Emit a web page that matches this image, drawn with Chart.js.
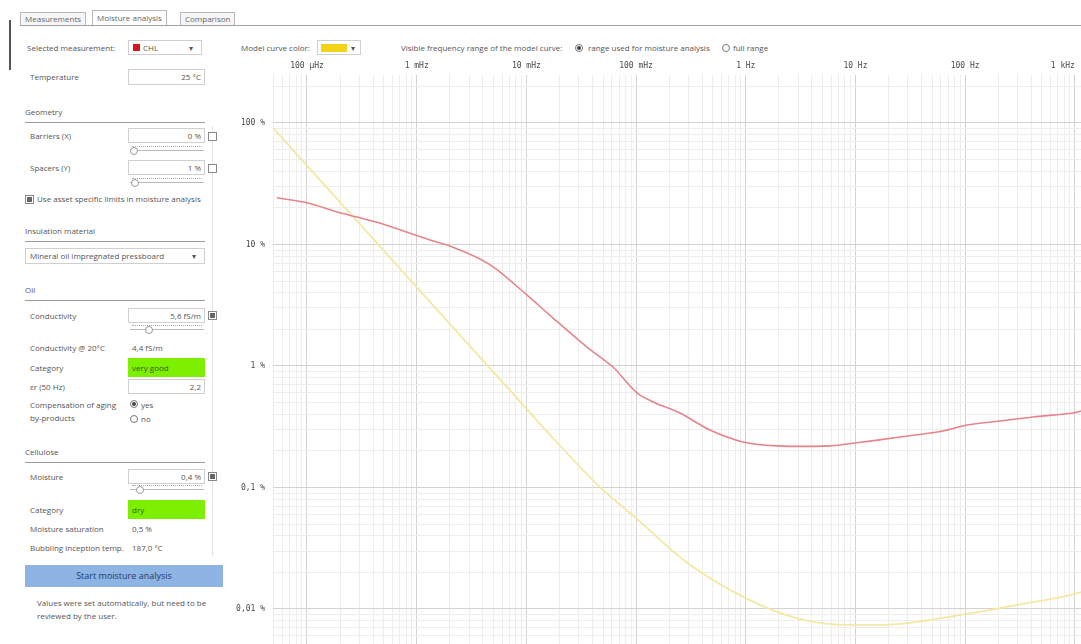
<!DOCTYPE html>
<html>
<head>
<meta charset="utf-8">
<script src="https://cdn.jsdelivr.net/npm/chart.js@4.4.1/dist/chart.umd.min.js"></script>
<style>
  body { margin: 0; width: 1081px; height: 644px; background: #fff; position: relative; overflow: hidden;
         font-family: "Open Sans", "Noto Sans", sans-serif; }
  .t { position: absolute; font-size: 8px; line-height: 10px; color: #555; white-space: nowrap; }
  .h { position: absolute; height: 1px; background: #9a9a9a; }
  .box { position: absolute; border: 1px solid #cfcfcf; background: #fff; box-sizing: border-box; }
  .val { position: absolute; right: 3px; top: 2px; font-size: 8px; line-height: 10px; color: #555; }
  .cb { position: absolute; width: 9px; height: 9px; border: 1px solid #888; background: #fff; box-sizing: border-box; }
  .cb.on::after { content: ""; position: absolute; left: 1px; top: 1px; width: 5px; height: 5px; background: #666; }
  .rd { position: absolute; width: 8px; height: 8px; border: 1px solid #777; border-radius: 50%; box-sizing: border-box; background: #fff; }
  .rd.on::after { content: ""; position: absolute; left: 1px; top: 1px; width: 4px; height: 4px; border-radius: 50%; background: #444; }
  .slider { position: absolute; width: 74px; height: 10px; }
  .slider .dots { position: absolute; left: 2px; right: 2px; top: 1px; border-top: 1px dotted #aaa; }
  .slider .track { position: absolute; left: 0; right: 0; top: 5px; height: 1px; background: #bbb; }
  .slider .thumb { position: absolute; top: 2px; width: 6px; height: 6px; border: 1px solid #999; border-radius: 50%; background: #fff; }
  .tab { position: absolute; font-size: 8px; line-height: 12px; color: #666; border: 1px solid #b8b8b8; border-bottom: none; padding: 0 4px; background: #f6f6f6; }
  #chartWrap { position: absolute; left: 230px; top: 56px; width: 851px; height: 588px; }
</style>
</head>
<body>
<!-- tab strip -->
<div style="position:absolute;left:9px;top:20px;width:2px;height:50px;background:#555"></div>
<div class="tab" style="left:20px;top:12px;">Measurements</div>
<div class="tab" style="left:92px;top:10px;line-height:14px;background:#fff;z-index:2;">Moisture analysis</div>
<div class="tab" style="left:180px;top:12px;">Comparison</div>
<div class="h" style="left:20px;top:25px;width:1061px;background:#a0a0a0"></div>

<!-- top row -->
<div class="t" style="left:27px;top:43px;">Selected measurement:</div>
<div class="box" style="left:128px;top:40px;width:74px;height:15px;">
  <div style="position:absolute;left:4px;top:3px;width:7px;height:7px;background:#d8141c"></div>
  <div class="t" style="left:14px;top:2px;">CHL</div>
  <div class="t" style="left:60px;top:2px;">▾</div>
</div>
<div class="t" style="left:241px;top:43px;">Model curve color:</div>
<div class="box" style="left:317px;top:40px;width:44px;height:15px;">
  <div style="position:absolute;left:3px;top:3px;width:26px;height:8px;background:#f3d319"></div>
  <div class="t" style="left:33px;top:2px;">▾</div>
</div>
<div class="t" style="left:401px;top:43px;">Visible frequency range of the model curve:</div>
<div class="rd on" style="left:575px;top:44px;"></div>
<div class="t" style="left:588px;top:43px;">range used for moisture analysis</div>
<div class="rd" style="left:722px;top:44px;"></div>
<div class="t" style="left:733px;top:43px;">full range</div>

<!-- left panel -->
<div style="position:absolute;left:212px;top:126px;width:1px;height:430px;background:#e2e2e2"></div>

<div class="t" style="left:30px;top:72px;">Temperature</div>
<div class="box" style="left:128px;top:69px;width:77px;height:16px;"><div class="val">25 °C</div></div>

<div class="t" style="left:25px;top:107px;">Geometry</div>
<div class="h" style="left:25px;top:122px;width:180px;"></div>
<div class="t" style="left:30px;top:131px;">Barriers (X)</div>
<div class="box" style="left:128px;top:128px;width:77px;height:15px;"><div class="val">0 %</div></div>
<div class="cb" style="left:208px;top:132px;"></div>
<div class="slider" style="left:130px;top:145px;"><div class="dots"></div><div class="track"></div><div class="thumb" style="left:0px"></div></div>
<div class="t" style="left:30px;top:163px;">Spacers (Y)</div>
<div class="box" style="left:128px;top:160px;width:77px;height:15px;"><div class="val">1 %</div></div>
<div class="cb" style="left:208px;top:164px;"></div>
<div class="slider" style="left:130px;top:177px;"><div class="dots"></div><div class="track"></div><div class="thumb" style="left:1px"></div></div>
<div class="cb on" style="left:25px;top:195px;"></div>
<div class="t" style="left:37px;top:194px;">Use asset specific limits in moisture analysis</div>

<div class="t" style="left:25px;top:226px;">Insulation material</div>
<div class="h" style="left:25px;top:241px;width:180px;"></div>
<div class="box" style="left:25px;top:248px;width:180px;height:16px;">
  <div class="t" style="left:4px;top:2px;">Mineral oil impregnated pressboard</div>
  <div class="t" style="left:166px;top:2px;">▾</div>
</div>

<div class="t" style="left:25px;top:285px;">Oil</div>
<div class="h" style="left:25px;top:300px;width:180px;"></div>
<div class="t" style="left:30px;top:311px;">Conductivity</div>
<div class="box" style="left:128px;top:308px;width:77px;height:15px;"><div class="val">5,6 fS/m</div></div>
<div class="cb on" style="left:208px;top:311px;"></div>
<div class="slider" style="left:130px;top:324px;"><div class="dots"></div><div class="track"></div><div class="thumb" style="left:15px"></div></div>
<div class="t" style="left:30px;top:343px;">Conductivity @ 20°C</div>
<div class="t" style="left:132px;top:343px;">4,4 fS/m</div>
<div class="t" style="left:30px;top:363px;">Category</div>
<div style="position:absolute;left:128px;top:358px;width:77px;height:19px;background:#7cf000"></div>
<div class="t" style="left:132px;top:363px;color:#3a5a10">very good</div>
<div class="t" style="left:30px;top:382px;">εr (50 Hz)</div>
<div class="box" style="left:128px;top:379px;width:77px;height:15px;"><div class="val">2,2</div></div>
<div class="t" style="left:30px;top:400px;">Compensation of aging</div>
<div class="t" style="left:30px;top:413px;">by-products</div>
<div class="rd on" style="left:130px;top:400px;"></div>
<div class="t" style="left:141px;top:400px;">yes</div>
<div class="rd" style="left:130px;top:415px;"></div>
<div class="t" style="left:141px;top:414px;">no</div>

<div class="t" style="left:25px;top:447px;">Cellulose</div>
<div class="h" style="left:25px;top:462px;width:180px;"></div>
<div class="t" style="left:30px;top:472px;">Moisture</div>
<div class="box" style="left:128px;top:469px;width:77px;height:15px;"><div class="val">0,4 %</div></div>
<div class="cb on" style="left:208px;top:472px;"></div>
<div class="slider" style="left:130px;top:484px;"><div class="dots"></div><div class="track"></div><div class="thumb" style="left:6px"></div></div>
<div class="t" style="left:30px;top:505px;">Category</div>
<div style="position:absolute;left:128px;top:500px;width:77px;height:19px;background:#7cf000"></div>
<div class="t" style="left:132px;top:505px;color:#3a5a10">dry</div>
<div class="t" style="left:30px;top:524px;">Moisture saturation</div>
<div class="t" style="left:132px;top:524px;">0,5 %</div>
<div class="t" style="left:30px;top:543px;">Bubbling inception temp.</div>
<div class="t" style="left:132px;top:543px;">187,0 °C</div>

<div style="position:absolute;left:25px;top:565px;width:198px;height:22px;background:#8db4e2;
            font-size:9px;line-height:22px;text-align:center;color:#1f3c6e;">Start moisture analysis</div>
<div class="t" style="left:37px;top:598px;">Values were set automatically, but need to be</div>
<div class="t" style="left:37px;top:611px;">reviewed by the user.</div>

<div id="chartWrap"><canvas id="myChart"></canvas></div>

<script>
// measured curve (red), frequency in Hz, dissipation in %
const measFreq = [5.3e-5, 1e-4, 2.0e-4, 2.86e-4, 4.6e-4, 1.32e-3, 2.14e-3, 3.78e-3, 5.4e-3, 0.0101, 0.0175,
  0.0356, 0.0615, 0.102, 0.143, 0.251, 0.472, 0.94, 1.92, 5.86, 9.9, 25.5, 62.8, 104, 207, 415, 962, 1138];
const measValue = [24.2, 22.0, 18.2, 16.8, 15.0, 10.9, 9.5, 7.6, 6.2, 3.84, 2.48,
  1.43, 0.98, 0.60, 0.506, 0.41, 0.297, 0.237, 0.22, 0.22, 0.232, 0.26, 0.292, 0.327, 0.352, 0.38, 0.41, 0.426];

// model curve (yellow)
const modelFreq = [4.9e-5, 1e-4, 1e-3, 0.01, 0.0179, 0.0489, 0.102, 0.279, 1.03, 3.05, 8.9,
  18.6, 79, 336, 1002, 1138];
const modelValue = [91, 44.6, 4.46, 0.446, 0.249, 0.097, 0.0551, 0.0248, 0.0121, 0.0083, 0.0074,
  0.0074, 0.00875, 0.011, 0.0133, 0.0138];

// tick labels
const xTickValues = [1e-4, 1e-3, 1e-2, 1e-1, 1, 10, 100, 1000];
const xTickLabels = ['100 µHz', '1 mHz', '10 mHz', '100 mHz', '1 Hz', '10 Hz', '100 Hz', '1 kHz'];
const yTickValues = [100, 10, 1, 0.1, 0.01];
const yTickLabels = ['100 %', '10 %', '1 %', '0,1 %', '0,01 %'];

const isMajor = v => Math.abs(Math.log10(v) - Math.round(Math.log10(v))) < 1e-6;

const logTicks = scale => {
  let ticks = [];
  let lo = Math.floor(Math.log10(scale.min));
  let hi = Math.ceil(Math.log10(scale.max));
  for (let n = lo; n <= hi; n++) {
    for (let k = 1; k <= 9; k++) {
      let v = parseFloat((k * Math.pow(10, n)).toPrecision(6));
      if (v >= scale.min && v <= scale.max) ticks.push({ value: v, major: k === 1 });
    }
  }
  scale.ticks = ticks;
};

const labelFor = (values, labels) => v => {
  if (!isMajor(v)) return '';
  let i = values.findIndex(x => Math.abs(Math.log10(x) - Math.log10(v)) < 1e-6);
  return i >= 0 ? labels[i] : '';
};

const gridColor = ctx => (ctx.tick && isMajor(ctx.tick.value)) ? '#d2d2d2' : '#ededed';

const toPoints = (xs, ys) => xs.map((x, i) => ({ x: x, y: ys[i] }));

let ctx = document.getElementById('myChart').getContext('2d');
let myChart = new Chart(ctx, {
  type: 'line',
  data: {
    datasets: [
      {
        data: toPoints(measFreq, measValue),
        borderColor: '#e5848c',
        borderWidth: 1.6,
        pointRadius: 0,
        tension: 0.3
      },
      {
        data: toPoints(modelFreq, modelValue),
        borderColor: '#f4e8a2',
        borderWidth: 1.8,
        pointRadius: 0,
        cubicInterpolationMode: 'monotone'
      }
    ]
  },
  options: {
    responsive: true,
    maintainAspectRatio: false,
    animation: false,
    layout: { padding: 0 },
    plugins: { legend: { display: false }, tooltip: { enabled: false } },
    scales: {
      x: {
        type: 'logarithmic',
        position: 'top',
        min: 4.9e-5,
        max: 1138,
        border: { display: false },
        grid: { color: gridColor, drawTicks: false, lineWidth: 1 },
        afterBuildTicks: logTicks,
        afterFit: s => { s.height = 19; s.paddingLeft = 0; s.paddingRight = 0; },
        ticks: {
          autoSkip: false,
          maxRotation: 0,
          align: 'inner',
          padding: 4,
          color: '#4a4a4a',
          font: { size: 8, family: 'DejaVu Sans Mono' },
          callback: labelFor(xTickValues, xTickLabels)
        }
      },
      y: {
        type: 'logarithmic',
        min: 0.00515,
        max: 248,
        border: { display: false },
        grid: { color: gridColor, drawTicks: false, lineWidth: 1 },
        afterBuildTicks: logTicks,
        afterFit: s => { s.width = 43; s.paddingTop = 0; s.paddingBottom = 0; },
        ticks: {
          autoSkip: false,
          padding: 8,
          color: '#4a4a4a',
          font: { size: 8, family: 'DejaVu Sans Mono' },
          callback: labelFor(yTickValues, yTickLabels)
        }
      }
    }
  }
});
</script>
</body>
</html>
